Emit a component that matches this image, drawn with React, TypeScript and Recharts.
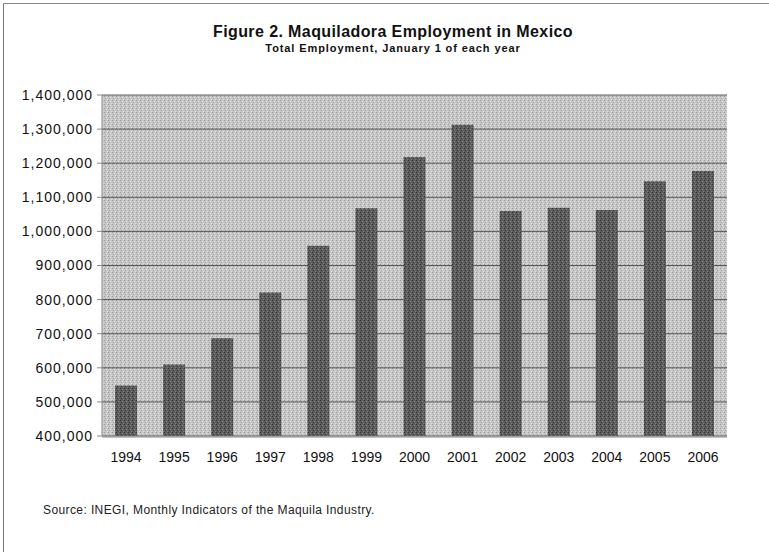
import { Bar, BarChart, CartesianGrid, XAxis, YAxis } from 'recharts';

const years = ['1994', '1995', '1996', '1997', '1998', '1999', '2000', '2001', '2002', '2003', '2004', '2005', '2006'];
const employment = [
  548000, 610000, 687000, 821000, 958000, 1068000, 1218000, 1313000, 1060000, 1069000, 1063000, 1147000, 1177000,
];
const yTicks = [400000, 500000, 600000, 700000, 800000, 900000, 1000000, 1100000, 1200000, 1300000, 1400000];
const edgeTicks = [0, 1, 2, 3, 4, 5, 6, 7, 8, 9, 10, 11, 12, 13];

const data = years.map((year, i) => ({ year, value: employment[i] }));

const font = '"Liberation Sans", Arial, sans-serif';

export default function App() {
  return (
    <div
      style={{
        position: 'absolute',
        left: 0,
        top: 0,
        width: 769,
        height: 552,
        background: '#fff',
        fontFamily: font,
        overflow: 'hidden',
      }}
    >
      <div style={{ position: 'absolute', left: 3, top: 3, width: 1, height: 549, background: '#777' }} />
      <div style={{ position: 'absolute', left: 3, top: 3, width: 766, height: 1, background: '#888' }} />
      <div
        style={{
          position: 'absolute',
          top: 23,
          left: 0,
          width: 786,
          textAlign: 'center',
          fontWeight: 'bold',
          fontSize: 16,
          lineHeight: '18px',
          letterSpacing: 0.4,
          color: '#111',
        }}
      >
        Figure 2. Maquiladora Employment in Mexico
      </div>
      <div
        style={{
          position: 'absolute',
          top: 42,
          left: 0,
          width: 786,
          textAlign: 'center',
          fontWeight: 'bold',
          fontSize: 11,
          lineHeight: '13px',
          letterSpacing: 0.9,
          color: '#111',
        }}
      >
        Total Employment, January 1 of each year
      </div>
      <div style={{ position: 'absolute', top: 503, left: 43, fontSize: 12, letterSpacing: 0.4, color: '#222' }}>
        Source: INEGI, Monthly Indicators of the Maquila Industry.
      </div>
      <BarChart
        width={769}
        height={552}
        data={data}
        margin={{ top: 95, right: 42, bottom: 114, left: 0 }}
        barCategoryGap={0}
        style={{ position: 'absolute', left: 0, top: 0 }}
      >
        <defs>
          <pattern id="bgStipple" width="4" height="4" patternUnits="userSpaceOnUse">
            <rect width="4" height="4" fill="#c6c6c6" />
            <rect x="0" y="0" width="1" height="1" fill="#9a9a9a" />
            <rect x="2" y="1" width="1" height="1" fill="#e2e2e2" />
            <rect x="1" y="2" width="1" height="1" fill="#a8a8a8" />
            <rect x="3" y="3" width="1" height="1" fill="#dcdcdc" />
          </pattern>
          <pattern id="barStipple" width="4" height="4" patternUnits="userSpaceOnUse">
            <rect width="4" height="4" fill="#5c5c5c" />
            <rect x="0" y="0" width="1" height="1" fill="#333" />
            <rect x="2" y="1" width="1" height="1" fill="#8a8a8a" />
            <rect x="1" y="2" width="1" height="1" fill="#3c3c3c" />
            <rect x="3" y="3" width="1" height="1" fill="#7a7a7a" />
          </pattern>
        </defs>
        <CartesianGrid vertical={false} stroke="#3a3a3a" strokeWidth={0.8} fill="url(#bgStipple)" />
        <XAxis
          dataKey="year"
          tickLine={false}
          axisLine={false}
          tickSize={0}
          tickMargin={16}
          height={1}
          interval={0}
          tick={{ fontSize: 14, fill: '#111', fontFamily: font }}
        />
        <XAxis
          xAxisId="edges"
          type="number"
          dataKey={() => 0}
          domain={[0, 13]}
          ticks={edgeTicks}
          tick={false}
          tickSize={5}
          axisLine={{ stroke: '#888' }}
          tickLine={{ stroke: '#888' }}
          height={1}
          allowDataOverflow
        />
        <YAxis
          domain={[400000, 1400000]}
          ticks={yTicks}
          allowDataOverflow
          width={102}
          tickSize={5}
          tickMargin={4}
          interval={0}
          axisLine={{ stroke: '#888' }}
          tickLine={{ stroke: '#888' }}
          tickFormatter={(v: number) => v.toLocaleString('en-US')}
          tick={{ fontSize: 14, fill: '#111', fontFamily: font, letterSpacing: 1 }}
        />
        <Bar dataKey="value" barSize={22} fill="url(#barStipple)" isAnimationActive={false} />
      </BarChart>
    </div>
  );
}
